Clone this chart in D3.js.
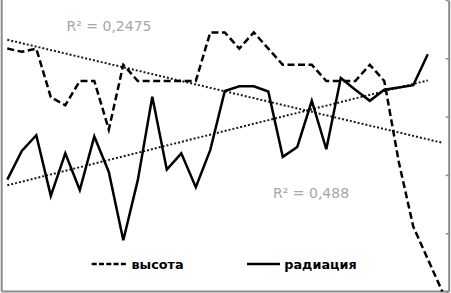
<!DOCTYPE html>
<html>
<head>
<meta charset="utf-8">
<script src="https://cdn.jsdelivr.net/npm/d3@7/dist/d3.min.js"></script>
<style>
  body { margin: 0; background: #fff; }
  svg { display: block; }
</style>
</head>
<body>
<div id="chart"></div>
<script>
// days of the month (category axis)
var days = [1, 2, 3, 4, 5, 6, 7, 8, 9, 10, 11, 12, 13, 14, 15, 16,
  17, 18, 19, 20, 21, 22, 23, 24, 25, 26, 27, 28, 29, 30, 31];

// высота - dashed line, left axis
var heightValues = [15, 14.8, 15, 12, 11.5, 13, 13, 10, 14, 13, 13, 13, 13, 13, 16, 16,
  15, 16, 15, 14, 14, 14, 13, 13, 13, 14, 13, 8, 4, 2, 0];

// радиация - solid line, right axis (no value on day 31)
var radiationValues = [192, 241, 268, 164, 237, 174, 266, 205, 88, 191, 334, 209, 237, 179, 243, 344,
  352, 352, 343, 231, 248, 327, 244, 366, 346, 327, 346, 350, 354, 407];

var radiationTicks = [0, 100, 200, 300, 400, 500];
var r2Labels = ["R² = 0,2475", "R² = 0,488"];
var legendNames = ["высота", "радиация"];

// set the dimensions of the plot area
var width = 451, height = 293;
var plot = { left: 1.7, right: 448.7, top: 0, bottom: 291.5 };

var svg = d3.select("#chart").append("svg")
  .attr("width", width)
  .attr("height", height);

// scales
var x = d3.scalePoint().domain(days).range([7.3, 442.3]);
var yH = d3.scaleLinear().domain([0, 18]).range([plot.bottom, plot.top]);
var yR = d3.scaleLinear().domain([0, 500]).range([plot.bottom, plot.top]);

// frame: left and bottom borders
svg.append("line")
  .attr("x1", plot.left).attr("x2", plot.left)
  .attr("y1", plot.top).attr("y2", plot.bottom)
  .style("stroke", "#8a8a8a").style("stroke-width", 2);
svg.append("line")
  .attr("x1", plot.left).attr("x2", plot.right)
  .attr("y1", plot.bottom).attr("y2", plot.bottom)
  .style("stroke", "#8a8a8a").style("stroke-width", 2);

// right axis for radiation, ticks only
var rAxis = svg.append("g")
  .attr("transform", "translate(" + plot.right + ",0)")
  .call(d3.axisLeft(yR).tickValues(radiationTicks).tickSize(3).tickSizeOuter(0).tickFormat(""));
rAxis.select(".domain").style("stroke", "#8a8a8a").style("stroke-width", 2);
rAxis.selectAll(".tick line").style("stroke", "#8a8a8a").style("stroke-width", 1.5);

// linear trend (least squares over day index)
function trend(vals) {
  var n = vals.length;
  var mi = d3.mean(vals, function (d, i) { return i; });
  var mv = d3.mean(vals);
  var sxy = 0, sxx = 0;
  vals.forEach(function (v, i) {
    sxy += (i - mi) * (v - mv);
    sxx += (i - mi) * (i - mi);
  });
  var b = sxy / sxx;
  var a = mv - b * mi;
  return [0, n - 1].map(function (i) { return { day: days[i], v: a + b * i }; });
}

var trendLine = function (scale) {
  return d3.line()
    .x(function (d) { return x(d.day); })
    .y(function (d) { return scale(d.v); });
};

svg.append("path")
  .datum(trend(heightValues))
  .attr("d", trendLine(yH))
  .style("fill", "none").style("stroke", "#1a1a1a")
  .style("stroke-width", 2).style("stroke-dasharray", "2,2");

svg.append("path")
  .datum(trend(radiationValues))
  .attr("d", trendLine(yR))
  .style("fill", "none").style("stroke", "#1a1a1a")
  .style("stroke-width", 2).style("stroke-dasharray", "2,2");

// data lines
var heightLine = d3.line()
  .x(function (d, i) { return x(days[i]); })
  .y(function (d) { return yH(d); });
var radiationLine = d3.line()
  .x(function (d, i) { return x(days[i]); })
  .y(function (d) { return yR(d); });

svg.append("path")
  .datum(heightValues)
  .attr("d", heightLine)
  .style("fill", "none").style("stroke", "#000")
  .style("stroke-width", 2.5).style("stroke-dasharray", "7,3.5");

svg.append("path")
  .datum(radiationValues)
  .attr("d", radiationLine)
  .style("fill", "none").style("stroke", "#000")
  .style("stroke-width", 2.5).style("stroke-linejoin", "miter");

// R² labels
svg.append("text")
  .attr("x", 66.5).attr("y", 30.7)
  .style("font-family", "DejaVu Sans").style("font-size", "14px")
  .style("fill", "#a6a6a6")
  .text(r2Labels[0]);
svg.append("text")
  .attr("x", 273).attr("y", 198.3)
  .style("font-family", "DejaVu Sans").style("font-size", "14px")
  .style("fill", "#a6a6a6")
  .text(r2Labels[1]);

// legend
var legend = svg.append("g");
legend.append("line")
  .attr("x1", 91.7).attr("x2", 128).attr("y1", 264).attr("y2", 264)
  .style("stroke", "#000").style("stroke-width", 2.4).style("stroke-dasharray", "5,2.3");
legend.append("text")
  .attr("x", 131.5).attr("y", 268.5)
  .style("font-family", "DejaVu Sans").style("font-weight", "bold").style("font-size", "12.8px")
  .text(legendNames[0]);
legend.append("line")
  .attr("x1", 247).attr("x2", 280).attr("y1", 264).attr("y2", 264)
  .style("stroke", "#000").style("stroke-width", 2.4);
legend.append("text")
  .attr("x", 284.3).attr("y", 268.5)
  .style("font-family", "DejaVu Sans").style("font-weight", "bold").style("font-size", "12.8px")
  .text(legendNames[1]);
</script>
</body>
</html>
